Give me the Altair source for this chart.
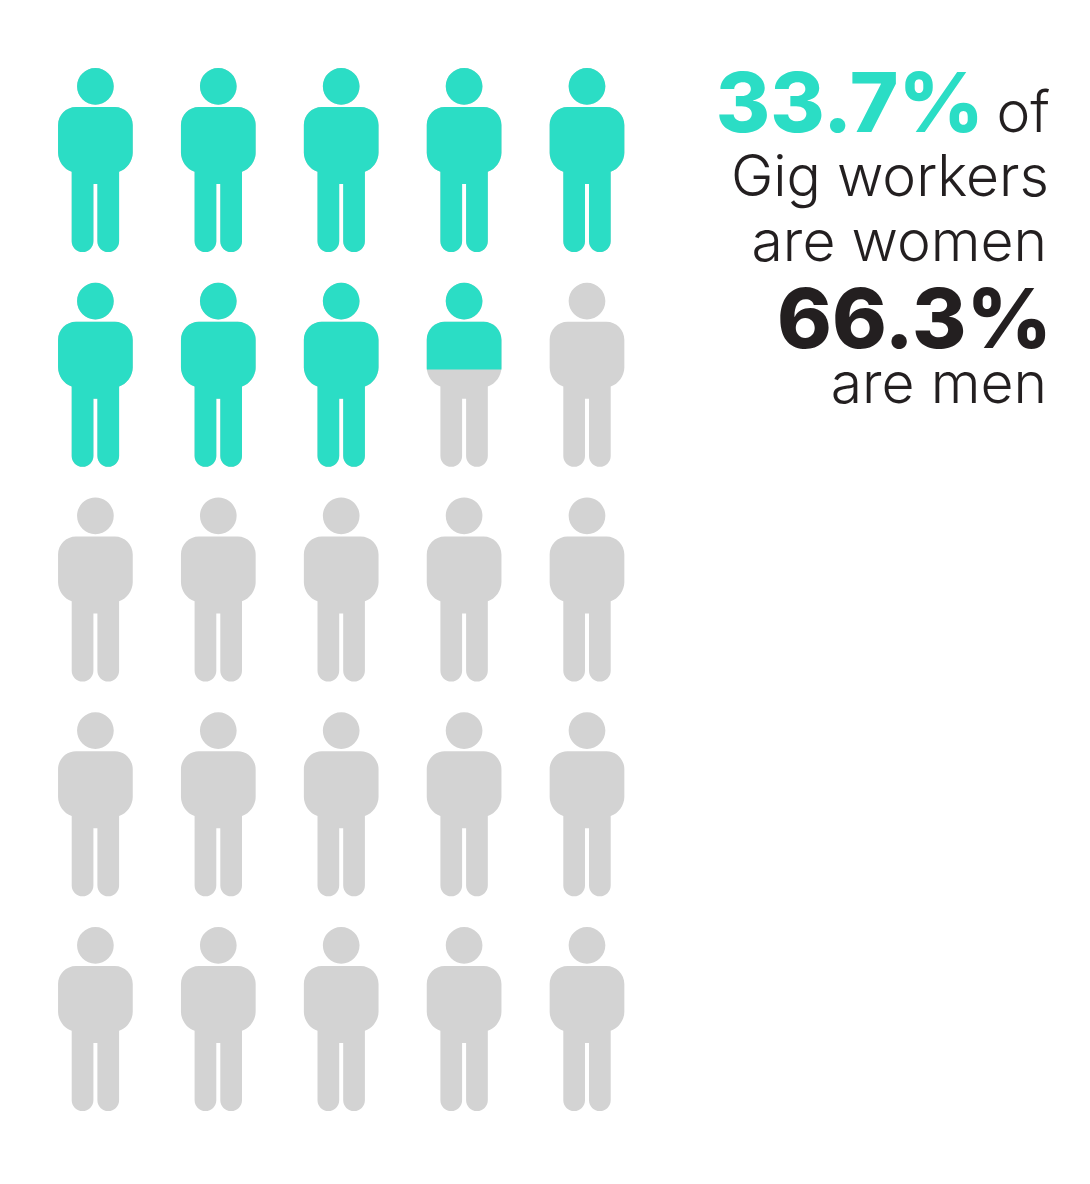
import altair as alt
import pandas as pd

TEAL = "#2BDDC5"
GREY = "#D3D3D3"
DARK = "#231F20"
LIGHT_FONT = "Inter"

columns = [0, 1, 2, 3, 4]
rows = [0, 1, 2, 3, 4]
full_icons = 8            # whole teal figures
partial_icon = 8          # index of the part-filled figure

# glyph outlines in a 184.3-tall figure box, origin at the top centre
H = 184.3
K = 0.5523


def fmt(x, y):
    return f"{x / (H / 2):.4f} {(y - H / 2) / (H / 2):.4f}"


def head(cy=18.35, r=18.35):
    k = K * r
    return (
        f"M{fmt(0, cy - r)}"
        f"C{fmt(k, cy - r)} {fmt(r, cy - k)} {fmt(r, cy)}"
        f"C{fmt(r, cy + k)} {fmt(k, cy + r)} {fmt(0, cy + r)}"
        f"C{fmt(-k, cy + r)} {fmt(-r, cy + k)} {fmt(-r, cy)}"
        f"C{fmt(-r, cy - k)} {fmt(-k, cy - r)} {fmt(0, cy - r)}Z"
    )


W, T, R = 37.35, 39.0, 18.0
top = (
    f"M{fmt(-W + R, T)}L{fmt(W - R, T)}"
    f"C{fmt(W - R + K * R, T)} {fmt(W, T + R - K * R)} {fmt(W, T + R)}"
)
top_back = (
    f"C{fmt(-W, T + R - K * R)} {fmt(-W + R - K * R, T)} {fmt(-W + R, T)}Z"
)
L, B, G, F = 23.7, 173.3, 2.0, 10.85
full_path = (
    head()
    + top
    + f"L{fmt(W, 84.8)}"
    + f"C{fmt(W, 93)} {fmt(31.5, 101.5)} {fmt(L, 103.7)}"
    + f"L{fmt(L, B)}"
    + f"C{fmt(L, B + K * F)} {fmt(L - F + K * F, B + F)} {fmt(L - F, B + F)}"
    + f"C{fmt(G + F - K * F, B + F)} {fmt(G, B + K * F)} {fmt(G, B)}"
    + f"L{fmt(G, 116)}L{fmt(-G, 116)}L{fmt(-G, B)}"
    + f"C{fmt(-G, B + K * F)} {fmt(-G - F + K * F, B + F)} {fmt(-G - F, B + F)}"
    + f"C{fmt(-L + F - K * F, B + F)} {fmt(-L, B + K * F)} {fmt(-L, B)}"
    + f"L{fmt(-L, 103.7)}"
    + f"C{fmt(-31.5, 101.5)} {fmt(-W, 93)} {fmt(-W, 84.8)}"
    + f"L{fmt(-W, T + R)}"
    + top_back
)
CUT = 86.7
part_path = (
    head() + top + f"L{fmt(W, CUT)}L{fmt(-W, CUT)}L{fmt(-W, T + R)}" + top_back
)

cells = pd.DataFrame(
    [{"col": c, "row": r, "i": r * 5 + c} for r in rows for c in columns]
)

x_scale = alt.Scale(domain=[0, 4], range=[87.4, 579])
y_scale = alt.Scale(domain=[0, 4], range=[152.1, 1011.1])
SIZE = H * H
enc = dict(
    x=alt.X("col:Q", scale=x_scale, axis=None),
    y=alt.Y("row:Q", scale=y_scale, axis=None),
)

grey = (
    alt.Chart(cells)
    .mark_point(shape=full_path, filled=True, fill=GREY, size=SIZE, opacity=1, strokeWidth=0)
    .encode(**enc)
)
teal = (
    alt.Chart(cells[cells.i < full_icons])
    .mark_point(shape=full_path, filled=True, fill=TEAL, size=SIZE, opacity=1, strokeWidth=0)
    .encode(**enc)
)
part = (
    alt.Chart(cells[cells.i == partial_icon])
    .mark_point(shape=part_path, filled=True, fill=TEAL, size=SIZE, opacity=1, strokeWidth=0)
    .encode(**enc)
)

captions = [
    ("33.7%", 976, 124, 83, 800, TEAL, "Inter"),
    ("of", 1042, 124, 57, 300, DARK, LIGHT_FONT),
    ("Gig workers", 1041, 188, 57, 300, DARK, LIGHT_FONT),
    ("are women", 1039, 253, 57, 300, DARK, LIGHT_FONT),
    ("66.3%", 1044, 340, 83, 800, DARK, "Inter"),
    ("are men", 1039, 395, 57, 300, DARK, LIGHT_FONT),
]
text_layers = [
    alt.Chart(pd.DataFrame({"t": [t]}))
    .mark_text(
        align="right", baseline="alphabetic", font=font, fontSize=fs,
        fontWeight=fw, color=color,
    )
    .encode(text="t:N", x=alt.value(x), y=alt.value(y))
    for t, x, y, fs, fw, color, font in captions
]

chart = (
    alt.layer(grey, teal, part, *text_layers)
    .properties(width=1074, height=1160, padding=0, autosize="none")
    .configure_view(stroke=None)
)

chart.save("out.html", embed_options={"renderer": "svg", "actions": False})
